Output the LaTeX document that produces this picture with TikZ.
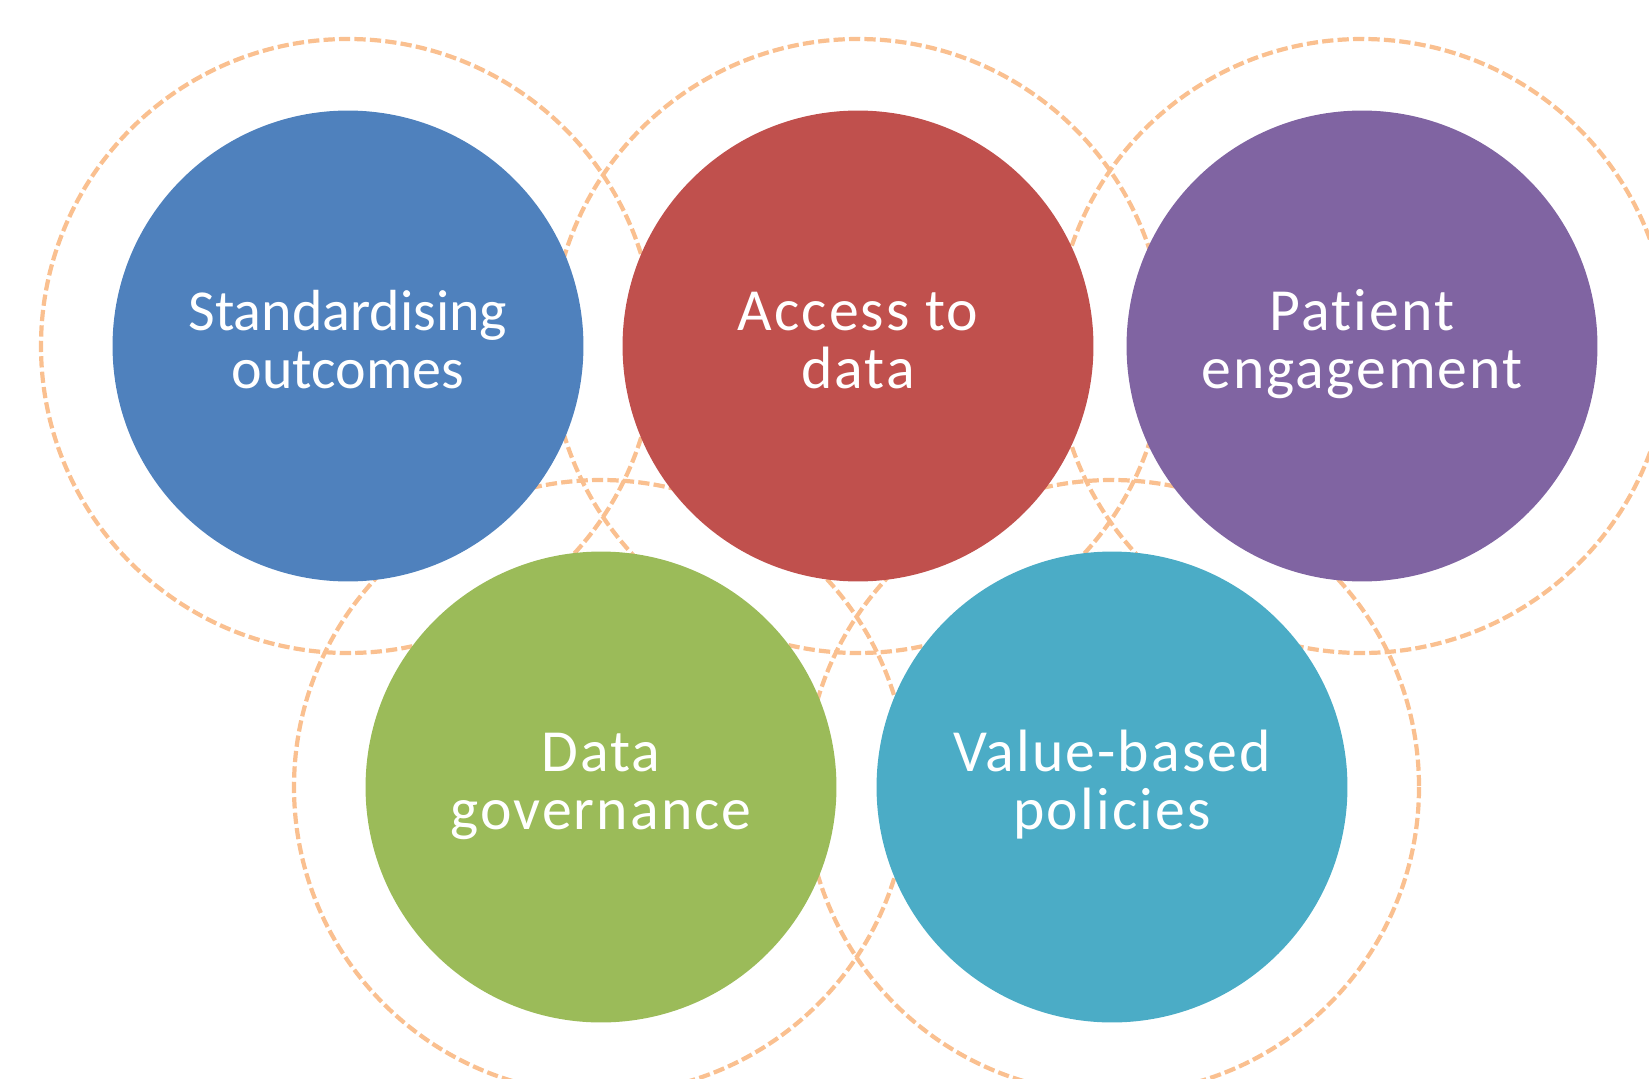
\documentclass[tikz,border=0pt]{standalone}
\usepackage{fontspec}
\setmainfont{Carlito}[Ligatures=NoCommon]
\usepackage{tikz}
\definecolor{outcomeblue}{HTML}{4F81BD}
\definecolor{accessred}{HTML}{C0504D}
\definecolor{patientpurple}{HTML}{8064A2}
\definecolor{governgreen}{HTML}{9BBB59}
\definecolor{valueteal}{HTML}{4BACC6}
\definecolor{ringorange}{HTML}{FAC090}

\begin{document}
\begin{tikzpicture}[x=0.02cm, y=-0.02cm,
    ring/.style={draw=ringorange, line width=2.4pt, dash pattern=on 6.4pt off 2.4pt},
    disc/.style={circle, fill=#1, inner sep=0pt, minimum size=9.42cm,
                 text=white, align=center, text height=57.5pt, text depth=8.7pt}]
    \useasboundingbox (0,0) rectangle (1649,1078);
    % dashed rings first, the discs sit on top
    \foreach \cx/\cy in {348/346, 858/346, 1362/346, 601/787, 1112/787} {
        \draw[ring] (\cx,\cy) circle (307);
    }
    \foreach \name/\cx/\cy/\col/\sz/\ls/\txt in {
            outcomes/348/346/outcomeblue/33/0/{Standardising\\outcomes},
            access/858/346/accessred/34/3.5/{Access to\\data},
            patient/1362/346/patientpurple/34/3.5/{Patient\\engagement},
            governance/601/787/governgreen/34/3.5/{Data\\governance},
            value/1112/787/valueteal/34/3.5/{Value-based\\policies}} {
        \node[disc=\col,
              font=\fontsize{\sz pt}{33.5pt}\selectfont\addfontfeature{LetterSpace=\ls}]
            (\name) at (\cx,\cy) {\txt};
    }
\end{tikzpicture}
\end{document}
